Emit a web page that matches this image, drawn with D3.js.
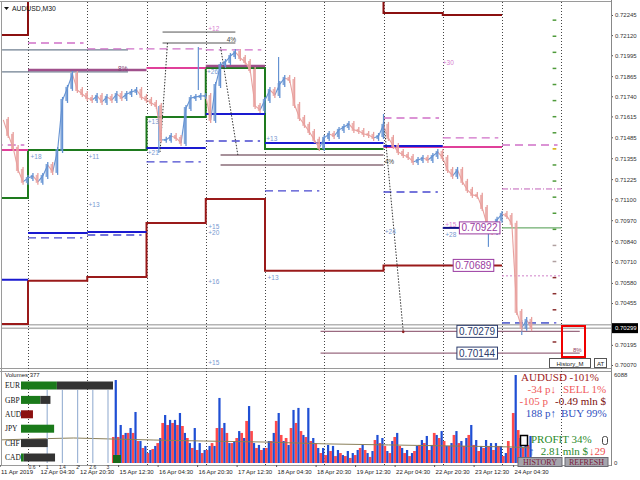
<!DOCTYPE html>
<html><head><meta charset="utf-8">
<script src="https://cdn.jsdelivr.net/npm/d3@7"></script>
<style>
body{margin:0;background:#fff;}
svg{display:block;}
text{font-family:"Liberation Sans",Arial,sans-serif;}
.serif{font-family:"Liberation Serif","Times New Roman",serif;}
</style>
</head><body>
<svg id="c" width="640" height="480"></svg>
<script>
// ---------------- DATA ----------------
const symbolTitle = "AUDUSD,M30";
const priceStartBar = 28, priceStepBars = 4;   // M30 bar index, sampled every 4 bars
const closes = [
0.71593,0.71500,0.71419,0.71282,0.71208,0.71232,0.71245,0.71208,0.71245,0.71313,
0.71270,0.71406,0.71717,0.71792,0.71878,0.71779,0.71754,0.71729,0.71717,0.71742,
0.71705,0.71736,0.71717,0.71754,0.71729,0.71754,0.71767,0.71779,0.71736,0.71717,
0.71698,0.71680,0.71469,0.71469,0.71493,0.71481,0.71450,0.71667,0.71729,0.71736,
0.71742,0.71742,0.71593,0.71810,0.71934,0.71953,0.71990,0.72015,0.71978,0.71953,
0.71903,0.71680,0.71655,0.71717,0.71779,0.71748,0.71816,0.71854,0.71841,0.71686,
0.71605,0.71562,0.71518,0.71469,0.71419,0.71481,0.71506,0.71493,0.71531,0.71549,
0.71568,0.71531,0.71524,0.71506,0.71500,0.71481,0.71493,0.71562,0.71481,0.71431,
0.71394,0.71375,0.71363,0.71332,0.71344,0.71357,0.71344,0.71369,0.71394,0.71357,
0.71282,0.71245,0.71282,0.71208,0.71158,0.71127,0.71121,0.71046,0.70940,0.70897,
0.70972,0.71009,0.70996,0.70947,0.70400,0.70301,0.70350,0.70299];
const wicks = [[154,0.71388,0.71680],[186,0.71779,0.72046],[251,0.71779,0.71984],[336,0.71481,0.71630],[421,0.70804,0.70940],[448,0.70257,0.70350]];
const bidPrice = 0.70299, askPrice = 0.70320;
const priceTicks = [0.72245,0.72120,0.71995,0.71865,0.71740,0.71615,0.71485,0.71355,0.71225,0.71100,0.70970,0.70840,0.70710,0.70580,0.70455,0.70195,0.70070];
const timeTickBars = [25,57,89,121,153,185,217,249,281,313,345,377,409,441];
const timeTickLabels = ["11 Apr 2019","12 Apr 04:30","12 Apr 20:30","15 Apr 12:30","16 Apr 04:30","16 Apr 20:30","17 Apr 12:30","18 Apr 04:30","18 Apr 20:30","19 Apr 12:30","22 Apr 04:30","22 Apr 20:30","23 Apr 12:30","24 Apr 04:30"];
const barsPerDay = 48;
const daySeparatorBars = [48,96,144,192,240,288,336,384,432,480];
// daily levels (one value per day: 11,12,15,16,17,18,19,22,23,24 Apr)
const maroonUpper = [0.72121,0.7250,0.7250,0.7250,0.7250,0.7250,0.7250,0.72257,0.72245,null];
const maroonLower = [0.70325,0.70593,0.70617,0.70953,0.71102,0.70655,0.70655,0.70689,0.70689,null];
const greenLevel  = [0.71108,0.71406,0.71406,0.71611,0.71916,0.71413,0.71413,null,null,null];
const pinkLevel   = [0.71406,null,null,0.71916,null,null,null,0.71425,0.71425,null];
const mauveLevel  = [null,0.71903,0.71903,null,0.71928,null,null,null,null,null];
const blueLevel   = [0.70599,0.70891,0.70897,0.71419,0.71630,0.71450,0.71450,0.71431,null,null];
const blueDashed  = [null,0.70860,0.70878,0.71332,0.71462,0.71152,null,0.71145,null,0.70332];
const pinkDashed  = [0.71437,0.72071,0.72034,0.72034,0.72028,null,null,0.71605,0.71481,0.71437];
// [fromBar, toBar, price]
const slateSegments = [[27,129,0.72028],[27,129,0.71891]];
const blackSegments = [[157,216,0.72139],[157,216,0.72071]];
const rosyGraySegments = [[204,336,0.71375],[204,336,0.71313]];
const targetSegments = [[285,495,0.70279],[285,495,0.70144]];
const greenThinSegments = [[432,480,0.70922]];
const pinkDottedSegments = [[432,480,0.70624]];
const pinkDashDotSegments = [[432,480,0.71164]];
const navyShortSegments = [[384,398,0.70922]];
const blueDashShortSegments = [[384,394,0.70689],[432,470,0.70332]];
// dotted links [bar1, price1, bar2, price2]
const dottedLinks = [[161,0.72071,155,0.71394],[204,0.72046,218,0.71375],[336,0.71611,352,0.70276]];
// tags [bar, price, text]
const blueTags = [[50,0.71363,"+18"],[97,0.71363,"+11"],[97,0.71065,"+13"],[145,0.71388,"+21"],[145,0.71580,"+13"],[193,0.71891,"+26"],[241,0.71475,"+13"],[242,0.70611,"+13"],[194,0.70929,"+15"],[194,0.70891,"+20"],[194,0.70586,"+16"],[194,0.70083,"+15"],[337,0.70897,"+24"],[386,0.70878,"+28"]];
const pinkTags = [[384,0.71947,"+30"],[194,0.72158,"+12"],[386,0.70940,"+15"]];
const darkTags = [[209,0.72090,"4%"],[337,0.71332,"4%"]];
const mauveTags = [[121,0.71910,"8%"]];
const ladderPrices = [0.72213,0.72113,0.72013,0.71913,0.71813,0.71713,0.71613,0.71513,0.71413,0.71313,0.71213,0.71113,0.71013,0.70913,0.70813,0.70713,0.70613,0.70513,0.70413,0.70213];
// boxed labels [price, rightBar]
const purpleBoxes = [[0.70922,430],[0.70689,425]];
const navyBoxes = [[0.70279,428],[0.70144,428]];
// volumes
const volStartBar = 116, volStepBars = 4, volMax = 6088;
const volBlue = [5740,2630,2080,2420,3530,1520,1180,900,1180,1730,3320,2980,2980,3460,2080,1380,2420,1380,900,1180,
1180,4500,2770,1380,1520,2210,1730,3940,1380,1250,1040,1520,2080,3460,1520,1250,3670,3810,1940,3810,
1730,1040,1040,1250,1180,900,550,830,690,900,1250,690,830,1940,1730,830,1520,2080,1040,900,
690,1180,1590,1870,1250,1940,2210,1180,1380,2210,1520,1730,2630,1590,1180,1590,1380,1380,1180,690,
1040,6088,1730,1590,1870];
const volRed = [1800,1800,1940,2080,2080,1520,1040,690,970,1380,2770,2630,2770,2630,2560,1730,1040,900,690,900,
1380,2420,2420,2080,1380,1730,2080,2910,2210,1040,900,1040,1520,2910,1940,1730,2420,2770,2210,1800,
1520,1380,690,550,830,480,690,480,350,550,1040,900,420,1590,1380,1180,690,1800,1180,690,
480,830,1250,1380,900,2080,1730,1520,1180,1940,1380,1180,1940,1250,830,1040,1180,900,1180,480,
1520,3460,2280,1040,1250];
const volumeCount = 377;
const maBars = [22,50,85,116,150,190,240,290,340,390,440,455];
const maValues = [1590,1660,1730,1660,1590,1520,1450,1320,1250,1180,1110,1040];
// currency strength
const currencies = ["EUR","GBP","AUD","JPY","CHF","CAD"];
const strengthGreen = [3.9,2.1,0,3.6,0,0.3];
const strengthRed = [0,0,1.3,0,0,0];
const strengthGray = [6.1,1.1,0,0,2.9,3.4];
const strengthTickLabels = ["0.6","1","1.4","2","2.6","3"];
// info panel
const infoTitle = "AUDUSD -101%";
const sellPips = "-34 p\u2193", sellPct = "SELL 1%";
const netPips = "-105 p", netMoney = "-0.49 mln $";
const buyPips = "188 p\u2191", buyPct = "BUY 99%";
const profitText = "PROFIT 34%";
const volMoney = "2.81 mln $", volDown = "\u219329";

// ---------------- SCALES ----------------
const xScale = d3.scaleLinear().domain([48,432]).range([28,502]);
const yScale = d3.scaleLinear().domain([0.70070,0.72245]).range([365,15]);
const vScale = d3.scaleLinear().domain([0,volMax]).range([463,375]);

const svg = d3.select("#c");
svg.append("rect").attr("width",640).attr("height",480).attr("fill","#fff");
const defs = svg.append("defs");
defs.append("clipPath").attr("id","mainClip").append("rect").attr("x",2).attr("y",2).attr("width",609).attr("height",366);
defs.append("clipPath").attr("id","volClip").append("rect").attr("x",2).attr("y",372).attr("width",609).attr("height",93);

// frames
svg.append("line").attr("x1",0).attr("x2",611).attr("y1",1.5).attr("y2",1.5).attr("stroke","#9a9a9a");
svg.append("line").attr("x1",1.5).attr("x2",1.5).attr("y1",1).attr("y2",466).attr("stroke","#9a9a9a");
svg.append("line").attr("x1",0).attr("x2",611).attr("y1",368.5).attr("y2",368.5).attr("stroke","#9a9a9a");
svg.append("line").attr("x1",0).attr("x2",611).attr("y1",371.5).attr("y2",371.5).attr("stroke","#9a9a9a");
svg.append("line").attr("x1",0).attr("x2",611).attr("y1",465.5).attr("y2",465.5).attr("stroke","#9a9a9a");

// day separators
svg.append("g").selectAll("line").data(daySeparatorBars).join("line")
  .attr("x1",d=>Math.round(xScale(d))+0.5).attr("x2",d=>Math.round(xScale(d))+0.5)
  .attr("y1",2).attr("y2",465).attr("stroke","#444").attr("stroke-width",1).attr("stroke-dasharray","1,2");

const main = svg.append("g").attr("clip-path","url(#mainClip)");
const X = b=>xScale(b), Y = p=>yScale(p);

// bid/ask lines
[askPrice,bidPrice].forEach(p=>{
  main.append("line").attr("x1",2).attr("x2",611).attr("y1",Y(p)).attr("y2",Y(p)).attr("stroke","#b4b4b4").attr("stroke-width",1.5);
});

function connectedSteps(levels,color,w){
  const pts=[];
  levels.forEach((v,d)=>{pts.push({b:d*barsPerDay,v});pts.push({b:(d+1)*barsPerDay,v});});
  const ln=d3.line().defined(p=>p.v!=null).x(p=>X(p.b)).y(p=>Y(p.v));
  main.append("path").attr("d",ln(pts)).attr("fill","none").attr("stroke",color).attr("stroke-width",w);
}
function dailySegments(levels,color,w,dash,shrink){
  main.append("g").selectAll("line").data(levels.map((v,d)=>({v,d})).filter(o=>o.v!=null)).join("line")
    .attr("x1",o=>X(o.d*barsPerDay)).attr("x2",o=>X((o.d+1)*barsPerDay-(shrink||0)))
    .attr("y1",o=>Y(o.v)).attr("y2",o=>Y(o.v))
    .attr("stroke",color).attr("stroke-width",w).attr("stroke-dasharray",dash||null);
}
function segs(arr,color,w,dash){
  main.append("g").selectAll("line").data(arr).join("line")
    .attr("x1",s=>X(s[0])).attr("x2",s=>X(s[1])).attr("y1",s=>Y(s[2])).attr("y2",s=>Y(s[2]))
    .attr("stroke",color).attr("stroke-width",w).attr("stroke-dasharray",dash||null);
}

segs(slateSegments,"#6f7f90",1.3);
segs(blackSegments,"#555",1);
segs(rosyGraySegments,"#8a6c78",1.3);
segs(targetSegments,"#9a6a80",1.3);
segs(greenThinSegments,"#4a9a4a",1);
segs(pinkDottedSegments,"#d080c8",1,"2,2");
segs(pinkDashDotSegments,"#c060b8",1,"6,2,1,2");
dailySegments(pinkDashed,"#d070c8",1.3,"8,5",3);
dailySegments(blueDashed,"#4848d0",1.3,"8,5",4);
segs(blueDashShortSegments,"#6070d0",1.3,"8,5");
connectedSteps(maroonUpper,"#8b1010",2);
connectedSteps(maroonLower,"#9a1a1a",2);
connectedSteps(greenLevel,"#1e7a1e",2);
dailySegments(mauveLevel,"#a0508c",2.5);
dailySegments(pinkLevel,"#e0409a",2);
dailySegments(blueLevel,"#1a1ad0",2);
segs(navyShortSegments,"#101088",2);

// dotted links
main.append("g").selectAll("line").data(dottedLinks).join("line")
  .attr("x1",d=>X(d[0])).attr("y1",d=>Y(d[1])).attr("x2",d=>X(d[2])).attr("y2",d=>Y(d[3]))
  .attr("stroke","#333").attr("stroke-dasharray","1.5,1.5");
main.append("circle").attr("cx",X(dottedLinks[2][2])).attr("cy",Y(dottedLinks[2][3])).attr("r",1.3).attr("fill","#902020");

// price series
const pts = closes.map((c,i)=>({b:priceStartBar+i*priceStepBars,c}));
const pairs = pts.slice(1).map((p,i)=>({a:pts[i],p}));
const upC="#6492d2", dnC="#e8a09e";
const cg = main.append("g");
cg.selectAll("line.w").data(wicks).join("line").attr("class","w")
  .attr("x1",d=>X(d[0])).attr("x2",d=>X(d[0])).attr("y1",d=>Y(d[1])).attr("y2",d=>Y(d[2]))
  .attr("stroke",upC).attr("stroke-width",1.2);
cg.selectAll("line.s").data(pairs).join("line").attr("class","s")
  .attr("x1",d=>X(d.a.b)).attr("x2",d=>X(d.p.b)).attr("y1",d=>Y(d.a.c)).attr("y2",d=>Y(d.p.c))
  .attr("stroke",d=>d.p.c>=d.a.c?upC:dnC).attr("stroke-width",1.1);
cg.selectAll("line.v").data(pairs).join("line").attr("class","v")
  .attr("x1",d=>X(d.p.b)).attr("x2",d=>X(d.p.b))
  .attr("y1",d=>Math.min(Y(d.a.c),Y(d.p.c))-3).attr("y2",d=>Math.max(Y(d.a.c),Y(d.p.c))+3)
  .attr("stroke",d=>d.p.c>=d.a.c?upC:dnC).attr("stroke-width",1.3);
cg.selectAll("rect").data(pairs).join("rect")
  .attr("x",d=>X(d.p.b)-2.2).attr("width",2)
  .attr("y",d=>Math.min(Y(d.a.c),Y(d.p.c))-1).attr("height",d=>Math.abs(Y(d.a.c)-Y(d.p.c))+2)
  .attr("fill",d=>d.p.c>=d.a.c?upC:dnC).attr("opacity",0.8);

// ladder
main.append("g").selectAll("line").data(ladderPrices).join("line")
  .attr("x1",X(473)).attr("x2",X(476)).attr("y1",p=>Y(p)).attr("y2",p=>Y(p))
  .attr("stroke",(p,i)=>i===8?"#d8a800":(i<14?"#4e9a3a":(i<16?"#b0a0a0":"#8b3030"))).attr("stroke-width",1.5);

// tags
function tags(arr,color,size){
  main.append("g").selectAll("text").data(arr).join("text")
    .attr("x",d=>X(d[0])).attr("y",d=>Y(d[1])).attr("dy","0.35em")
    .attr("font-size",size||6.5).attr("fill",color).text(d=>d[2]);
}
tags(blueTags,"#7898d0");
tags(pinkTags,"#d880d0");
tags(darkTags,"#444");
tags(mauveTags,"#804070");

// boxed labels
function boxes(arr,color){
  arr.forEach(([p,b])=>{
    const g=main.append("g");
    const t=g.append("text").attr("x",X(b)-2).attr("y",Y(p)).attr("dy","0.36em").attr("text-anchor","end")
      .attr("font-size",10).attr("fill",color).text(p.toFixed(5));
    const bb=t.node().getBBox();
    g.insert("rect",()=>t.node()).attr("x",bb.x-2).attr("y",Y(p)-6).attr("width",bb.width+4).attr("height",12)
      .attr("fill","#fff").attr("stroke",color).attr("stroke-width",1);
  });
}
boxes(purpleBoxes,"#9a3aa0");
boxes(navyBoxes,"#2c3c6c");

// red box & buttons in main chart
svg.append("rect").attr("x",562).attr("y",326).attr("width",23).attr("height",31).attr("fill","none").attr("stroke","#f00000").attr("stroke-width",2);
svg.append("text").attr("x",573).attr("y",352).attr("font-size",6).attr("fill","#904060").text("8%");
svg.append("rect").attr("x",549.5).attr("y",358.5).attr("width",41).attr("height",9).attr("fill","#fff").attr("stroke","#555");
svg.append("text").attr("x",570).attr("y",365.5).attr("text-anchor","middle").attr("font-size",6).attr("fill","#222").text("History_M");
svg.append("rect").attr("x",594.5).attr("y",358.5).attr("width",12).attr("height",9).attr("fill","#fff").attr("stroke","#555");
svg.append("text").attr("x",600.5).attr("y",365.5).attr("text-anchor","middle").attr("font-size",6).attr("fill","#222").text("AT");

// title
svg.append("path").attr("d","M4,7 L9,7 L6.5,10 Z").attr("fill","#111");
svg.append("text").attr("x",12).attr("y",10.5).attr("font-size",6.8).attr("fill","#111").text(symbolTitle);

// price axis
const pa = svg.append("g").attr("transform","translate(611,0)")
  .call(d3.axisRight(yScale).tickValues(priceTicks).tickFormat(d3.format(".5f")).tickSize(2).tickPadding(2));
pa.select(".domain").remove();
pa.selectAll("text").attr("font-size",6).attr("fill","#333");
pa.selectAll("line").attr("stroke","#555");
svg.append("line").attr("x1",611.5).attr("x2",611.5).attr("y1",0).attr("y2",466).attr("stroke","#888");
svg.append("rect").attr("x",612).attr("y",Y(bidPrice)-5).attr("width",26).attr("height",10).attr("fill","#000");
svg.append("text").attr("x",615).attr("y",Y(bidPrice)).attr("dy","0.35em").attr("font-size",6).attr("fill","#fff").text(bidPrice.toFixed(5));

// volume panel
const vol = svg.append("g").attr("clip-path","url(#volClip)");
const vw = xScale(volStepBars)-xScale(0);
vol.selectAll("rect.r").data(volRed).join("rect").attr("class","r")
  .attr("x",(v,i)=>X(volStartBar+i*volStepBars)).attr("width",vw*0.55)
  .attr("y",v=>vScale(v)).attr("height",v=>vScale(0)-vScale(v)).attr("fill","#ff4a4a");
vol.selectAll("rect.b").data(volBlue).join("rect").attr("class","b")
  .attr("x",(v,i)=>X(volStartBar+i*volStepBars)+vw*0.55).attr("width",vw*0.45)
  .attr("y",v=>vScale(v)).attr("height",v=>vScale(0)-vScale(v)).attr("fill","#1f4fd4");
vol.append("path").attr("d",d3.line().x((b)=>X(b)).y((b,i)=>vScale(maValues[i]))(maBars))
  .attr("fill","none").attr("stroke","#8a7f5a").attr("stroke-width",1);

const va = svg.append("g").attr("transform","translate(611,0)")
  .call(d3.axisRight(vScale).tickValues([volMax,0]).tickFormat(d3.format("d")).tickSize(0).tickPadding(3));
va.select(".domain").remove();
va.selectAll("text").attr("font-size",6).attr("fill","#333");

// strength panel
const sx = d3.scaleLinear().domain([0,10]).range([21,113]);
const sTick = d3.scalePoint().domain(strengthTickLabels).range([32,108]);
svg.append("g").selectAll("line").data(strengthTickLabels.slice(1)).join("line")
  .attr("x1",d=>sTick(d)).attr("x2",d=>sTick(d)).attr("y1",390).attr("y2",463).attr("stroke","#9fb6d6").attr("stroke-width",1.2);
svg.append("g").selectAll("text").data(strengthTickLabels).join("text")
  .attr("x",d=>sTick(d)).attr("y",469).attr("text-anchor","middle").attr("font-size",5).attr("fill","#333").text(d=>d);
const rowY = d3.scalePoint().domain(currencies).range([385.5,457.5]);
const sg = svg.append("g");
currencies.forEach((c,i)=>{
  const y=rowY(c);
  sg.append("text").attr("class","serif").attr("x",5).attr("y",y).attr("dy","0.35em").attr("font-size",7.5).attr("fill","#111").text(c);
  let x0=sx(0);
  [[strengthGreen[i],"#1a7a1a"],[strengthRed[i],"#8b1010"],[strengthGray[i],"#333"]].forEach(([v,col])=>{
    if(v>0){ sg.append("rect").attr("x",x0).attr("y",y-4).attr("width",sx(v)-sx(0)).attr("height",8).attr("fill",col); x0+=sx(v)-sx(0); }
  });
});
svg.append("rect").attr("x",113).attr("y",455).attr("width",8).attr("height",8).attr("fill","#1a6a1a");
svg.append("text").attr("x",5).attr("y",377).attr("font-size",6).attr("fill","#222").text("Volumes "+volumeCount);

// time axis
const ta = svg.append("g").attr("transform","translate(0,465)")
  .call(d3.axisBottom(xScale).tickValues(timeTickBars).tickFormat((d,i)=>timeTickLabels[i]).tickSize(2).tickPadding(3));
ta.select(".domain").remove();
ta.selectAll("text").attr("font-size",6).attr("fill","#222").attr("text-anchor","start").attr("dx","1");
ta.selectAll("line").attr("stroke","#555");

// info panel
const info = svg.append("g");
function itext(x,y,s,col,anchor){info.append("text").attr("class","serif").attr("x",x).attr("y",y).attr("font-size",11).attr("fill",col).attr("text-anchor",anchor||"start").text(s);}
itext(521,381,infoTitle,"#a01c1c");
itext(556,393,sellPips,"#f05a5a","end");
itext(563,393,sellPct,"#f05a5a");
itext(548,405,netPips,"#f05a5a","end");
itext(555,405,netMoney,"#7a0c0c");
itext(556,417,buyPips,"#2f4fc0","end");
itext(561,417,buyPct,"#2f4fc0");
itext(531,443,profitText,"#2a8a2a");
itext(529,455,"\u2191","#2f4fc0");
itext(588,455,volMoney,"#2a8a2a","end");
itext(589,455,volDown,"#f05050");
svg.append("rect").attr("x",520.5).attr("y",435.5).attr("width",7).attr("height",10).attr("fill","#fff").attr("stroke","#000").attr("stroke-width",1.5);
svg.append("rect").attr("x",602.5).attr("y",436.5).attr("width",5).attr("height",8).attr("rx",2).attr("fill","none").attr("stroke","#444");
[["HISTORY",518,44],["REFRESH",565,43]].forEach(([t,x,w])=>{
  svg.append("rect").attr("x",x).attr("y",457.5).attr("width",w).attr("height",9).attr("fill","#a4a4ac").attr("stroke","#6a6a72");
  svg.append("text").attr("class","serif").attr("x",x+w/2).attr("y",465).attr("text-anchor","middle").attr("font-size",8).attr("fill","#7a1a3a").text(t);
});
</script>
</body></html>
